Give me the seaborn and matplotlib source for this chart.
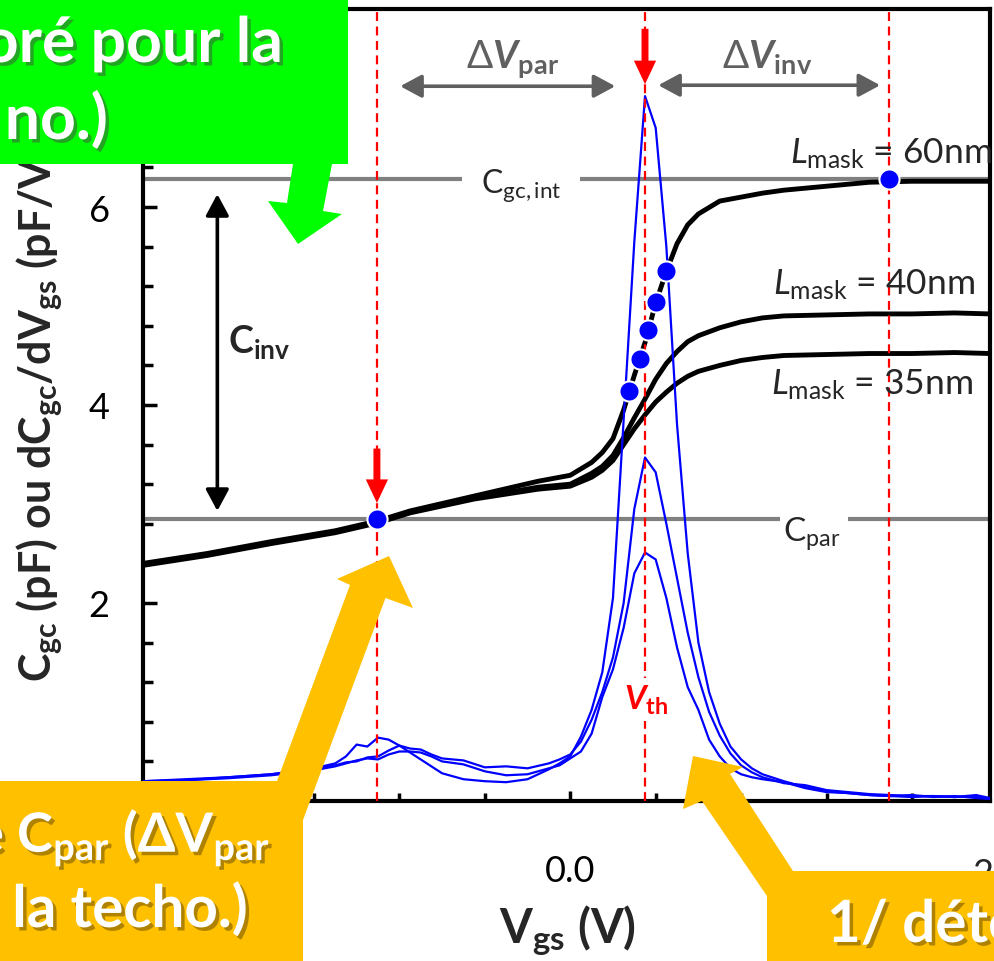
import matplotlib
matplotlib.use("Agg")
import matplotlib.pyplot as plt
import matplotlib.patheffects as pe
from matplotlib.patches import Polygon
from matplotlib.ticker import MultipleLocator, FixedLocator, FixedFormatter
import numpy as np
import pandas as pd
import seaborn as sns

# ------------------------------------------------------------------ data
vgs_cv = [-2.0, -1.7, -1.4, -1.1, -0.9, -0.75, -0.45, -0.15, 0.0, 0.1, 0.15, 0.2, 0.25, 0.3,
          0.35, 0.4, 0.45, 0.5, 0.55, 0.6, 0.7, 0.8, 0.9, 1.0, 1.2, 1.4, 1.6, 1.8, 1.965]
cgc_60nm = [2.40, 2.50, 2.62, 2.73, 2.83, 2.93, 3.08, 3.23, 3.29, 3.42, 3.52, 3.66, 3.95, 4.30,
            4.63, 5.03, 5.35, 5.63, 5.82, 5.93, 6.06, 6.10, 6.14, 6.17, 6.21, 6.25, 6.26, 6.26,
            6.26]
cgc_40nm = [2.39, 2.49, 2.61, 2.72, 2.82, 2.92, 3.06, 3.17, 3.20, 3.31, 3.38, 3.49, 3.67, 3.87,
            4.06, 4.26, 4.42, 4.54, 4.64, 4.70, 4.78, 4.84, 4.88, 4.90, 4.91, 4.92, 4.92, 4.93,
            4.92]
cgc_35nm = [2.38, 2.48, 2.60, 2.71, 2.81, 2.91, 3.05, 3.15, 3.18, 3.27, 3.34, 3.44, 3.60, 3.76,
            3.90, 4.03, 4.13, 4.22, 4.29, 4.34, 4.40, 4.45, 4.48, 4.50, 4.51, 4.52, 4.52, 4.53,
            4.52]

vgs_deriv = [-2.0, -1.8, -1.6, -1.4, -1.2, -1.1, -1.05, -1.0, -0.95, -0.9, -0.85, -0.8, -0.75,
             -0.7, -0.65, -0.6, -0.5, -0.4, -0.3, -0.2, -0.1, -0.05, 0.0, 0.05, 0.1, 0.15, 0.2,
             0.25, 0.3, 0.35, 0.4, 0.45, 0.5, 0.55, 0.6, 0.65, 0.7, 0.75, 0.8, 0.85, 0.9, 1.0,
             1.1, 1.2, 1.3, 1.4, 1.5, 1.6, 1.7, 1.8, 1.9, 1.965]
dcdv_60nm = [0.20, 0.21, 0.24, 0.27, 0.33, 0.38, 0.45, 0.57, 0.55, 0.64, 0.62, 0.56, 0.49,
             0.42, 0.35, 0.28, 0.22, 0.20, 0.19, 0.22, 0.32, 0.38, 0.45, 0.65, 0.92, 1.30, 2.05,
             3.85, 5.65, 7.12, 6.80, 5.60, 3.80, 2.50, 1.60, 1.10, 0.78, 0.55, 0.42, 0.33, 0.27,
             0.20, 0.14, 0.10, 0.08, 0.06, 0.05, 0.06, 0.04, 0.05, 0.03, 0.02]
dcdv_40nm = [0.20, 0.22, 0.24, 0.27, 0.32, 0.36, 0.39, 0.40, 0.44, 0.45, 0.51, 0.56, 0.53,
             0.52, 0.47, 0.43, 0.41, 0.34, 0.35, 0.33, 0.38, 0.42, 0.47, 0.60, 0.82, 1.10, 1.45,
             2.00, 2.95, 3.47, 3.32, 2.80, 2.25, 1.70, 1.25, 0.90, 0.66, 0.48, 0.36, 0.29, 0.24,
             0.18, 0.16, 0.11, 0.09, 0.07, 0.06, 0.05, 0.05, 0.04, 0.05, 0.02]
dcdv_35nm = [0.19, 0.21, 0.23, 0.26, 0.31, 0.35, 0.38, 0.41, 0.43, 0.42, 0.47, 0.50, 0.50,
             0.49, 0.45, 0.40, 0.37, 0.30, 0.26, 0.27, 0.33, 0.36, 0.43, 0.50, 0.68, 1.05, 1.33,
             1.75, 2.30, 2.51, 2.44, 2.05, 1.55, 1.15, 0.92, 0.62, 0.45, 0.33, 0.27, 0.24, 0.22,
             0.19, 0.13, 0.09, 0.08, 0.06, 0.05, 0.04, 0.05, 0.04, 0.06, 0.03]
mask_labels = ["60nm", "40nm", "35nm"]

extract_v = [0.273, 0.328, 0.366, 0.402, 0.449]
extract_c = [4.14, 4.46, 4.76, 5.04, 5.35]
v_par, v_th, v_inv = -0.905, 0.35, 1.49
c_par, c_gc_int = 2.85, 6.28

x_ticks = [-2.0, 0.0, 2.0]
x_ticklabels = ["-2.0", "0.0", "2.0"]
y_ticks = [2, 4, 6]
y_ticklabels = ["2", "4", "6"]

# ------------------------------------------------------------------ style
sns.set_theme(style="ticks")
plt.rcParams["font.family"] = ["Lato", "DejaVu Sans"]
plt.rcParams["mathtext.fontset"] = "custom"
plt.rcParams["mathtext.rm"] = "Lato"
plt.rcParams["mathtext.it"] = "Lato:italic"
plt.rcParams["mathtext.bf"] = "Lato:bold"
plt.rcParams["mathtext.bfit"] = "Lato:bold:italic"

W, H = 994, 962
fig = plt.figure(figsize=(W / 100, H / 100), dpi=100)
L, R, B, T = 143, 990, 802, 10
ax = fig.add_axes([L / W, 1 - B / H, (R - L) / W, (B - T) / H])
XMIN, XMAX = -2.0, 1.965
ax.set_xlim(XMIN, XMAX)
ax.set_ylim(0, 8)

GRAY = "#808080"
# reference levels (gray lines with gaps for their labels)
ax.plot([XMIN, -0.505], [c_gc_int] * 2, color=GRAY, lw=3, zorder=2, solid_capstyle="butt")
ax.plot([0.047, XMAX], [c_gc_int] * 2, color=GRAY, lw=3, zorder=2, solid_capstyle="butt")
ax.plot([XMIN, 0.983], [c_par] * 2, color=GRAY, lw=3, zorder=2, solid_capstyle="butt")
ax.plot([1.30, XMAX], [c_par] * 2, color=GRAY, lw=3, zorder=2, solid_capstyle="butt")

# C-V curves
n = len(vgs_cv)
df_cv = pd.DataFrame({"Vgs": vgs_cv * 3,
                      "C": cgc_60nm + cgc_40nm + cgc_35nm,
                      "mask": np.repeat(mask_labels, n)})
sns.lineplot(data=df_cv, x="Vgs", y="C", units="mask", estimator=None, color="black",
             lw=3.5, sort=False, legend=False, ax=ax, zorder=3)

# derivative curves
m = len(vgs_deriv)
df_d = pd.DataFrame({"Vgs": vgs_deriv * 3,
                     "D": dcdv_60nm + dcdv_40nm + dcdv_35nm,
                     "mask": np.repeat(mask_labels, m)})
sns.lineplot(data=df_d, x="Vgs", y="D", units="mask", estimator=None, color="#0000ff",
             lw=1.6, sort=False, legend=False, ax=ax, zorder=4)

# red dashed vertical lines
for v in (v_par, v_th, v_inv):
    ax.axvline(v, color="red", lw=1.6, ls=(0, (4, 2.5)), zorder=5)

# blue extraction points
sns.scatterplot(x=extract_v + [v_par, v_inv], y=extract_c + [c_par, c_gc_int], s=210,
                color="#0000ff", edgecolor="white", linewidth=1.5, ax=ax, zorder=7, legend=False)

# ticks
ax.xaxis.set_major_locator(FixedLocator(x_ticks))
ax.xaxis.set_major_formatter(FixedFormatter(x_ticklabels))
ax.xaxis.set_minor_locator(MultipleLocator(0.4))
ax.yaxis.set_major_locator(FixedLocator(y_ticks))
ax.yaxis.set_major_formatter(FixedFormatter(y_ticklabels))
ax.yaxis.set_minor_locator(MultipleLocator(0.4))
ax.tick_params(which="both", direction="in", width=2.5, color="black", top=False, right=False,
               labelsize=26, labelcolor="black")
ax.tick_params(axis="y", which="major", length=10, pad=24)
ax.tick_params(axis="y", which="minor", length=7)
ax.tick_params(axis="x", which="major", length=7.5, pad=38)
ax.tick_params(axis="x", which="minor", length=6)
ax.text(2.0, -0.0707, x_ticklabels[-1], transform=ax.get_xaxis_transform(), ha="center",
        va="top", fontsize=26, clip_on=False)
for s in ax.spines.values():
    s.set_linewidth(3)
    s.set_color("black")
    s.set_visible(True)

ax.set_xlabel(r"V$_{\mathbf{gs}}$ (V)", fontsize=34, fontweight="bold")
ax.xaxis.set_label_coords((568 - L) / (R - L), (B - 903) / (B - T))
ax.set_ylabel(r"C$_{\mathbf{gc}}$ (pF) ou dC$_{\mathbf{gc}}$/dV$_{\mathbf{gs}}$ (pF/V)",
              fontsize=31, fontweight="bold")
ax.yaxis.label.set_rotation_mode("default")
ax.yaxis.label.set_va("bottom")
ax.yaxis.label.set_ha("center")
ax.yaxis.set_label_coords((40 - L) / (R - L), (B - 682) / (B - T))

# annotations inside the axes
ax.text(-0.23, 6.15, r"C$_{\mathrm{gc,int}}$", ha="center", va="baseline", fontsize=23, zorder=6)
ax.text(1.133, 2.64, r"C$_{\mathrm{par}}$", ha="center", va="baseline", fontsize=24, zorder=6)
ax.text(1.975, 6.45, r"$\mathit{L}_{\mathrm{mask}}$ = 60nm", ha="right", va="baseline", fontsize=25.5, zorder=6)
ax.text(1.895, 5.13, r"$\mathit{L}_{\mathrm{mask}}$ = 40nm", ha="right", va="baseline", fontsize=25.5, zorder=6)
ax.text(1.886, 4.12, r"$\mathit{L}_{\mathrm{mask}}$ = 35nm", ha="right", va="baseline", fontsize=25.5, zorder=6)
ax.text(-1.60, 4.54, r"$\mathbf{C_{inv}}$", ha="left", va="baseline", fontsize=27, zorder=6)
ax.text(-0.271, 7.41, r"$\Delta\mathbfit{V}_{\mathbf{par}}$", ha="center", va="baseline",
        fontsize=28, color="#606060", zorder=6)
ax.text(0.922, 7.41, r"$\Delta\mathbfit{V}_{\mathbf{inv}}$", ha="center", va="baseline",
        fontsize=28, color="#606060", zorder=6)
ax.text(0.356, 0.93, r"$\mathbfit{V}_{\mathbf{th}}$", ha="center", va="baseline", fontsize=24,
        color="red", zorder=6,
        bbox=dict(boxstyle="square,pad=0.15", fc="white", ec="none"))

# arrows
red_arrow = dict(arrowstyle="simple,head_length=1.7,head_width=1.6,tail_width=0.5",
                 fc="red", ec="none", shrinkA=0, shrinkB=0, mutation_scale=10)
ax.annotate("", xy=(v_par, 3.01), xytext=(v_par, 3.56), arrowprops=red_arrow, zorder=8)
ax.annotate("", xy=(v_th, 7.24), xytext=(v_th, 7.80), arrowprops=red_arrow, zorder=8)
gray_arrow = dict(arrowstyle="<|-|>,head_length=1.3,head_width=0.7", color="#5f5f5f",
                  lw=2.6, shrinkA=0, shrinkB=0, mutation_scale=10)
ax.annotate("", xy=(-0.796, 7.22), xytext=(0.211, 7.22), arrowprops=gray_arrow, zorder=6)
ax.annotate("", xy=(0.412, 7.23), xytext=(1.451, 7.23), arrowprops=gray_arrow, zorder=6)
blk_arrow = dict(arrowstyle="<|-|>,head_length=1.3,head_width=0.7", color="black",
                 lw=2.6, shrinkA=0, shrinkB=0, mutation_scale=10)
ax.annotate("", xy=(-1.652, 6.13), xytext=(-1.652, 2.93), arrowprops=blk_arrow, zorder=6)

# ------------------------------------------------------------------ callout overlays
ov = fig.add_axes([0, 0, 1, 1], zorder=20)
ov.set_xlim(0, W)
ov.set_ylim(H, 0)
ov.axis("off")
ov.patch.set_alpha(0)

GREEN = "#00ff00"
YELLOW = "#ffc000"
ov.add_patch(Polygon([(0, 0), (348, 0), (348, 165), (332, 165), (323, 212), (342, 215),
                      (298, 245), (268, 202), (287, 204), (293, 165), (0, 165)],
                     closed=True, fc=GREEN, ec="none"))
ov.add_patch(Polygon([(0, 782), (277, 782), (350, 586), (337, 580), (389, 557), (413, 609),
                      (385.5, 599), (303, 821), (303, H), (0, H)],
                     closed=True, fc=YELLOW, ec="none"))
ov.add_patch(Polygon([(767, H), (767, 897), (702, 802), (683, 810), (693, 757), (743, 768),
                      (730, 775), (793, 872), (W, 872), (W, H)],
                     closed=True, fc=YELLOW, ec="none"))

shadow_g = [pe.withSimplePatchShadow(offset=(2.5, -2.5), shadow_rgbFace="#3a6a3a", alpha=0.6)]
shadow_y = [pe.withSimplePatchShadow(offset=(2.5, -2.5), shadow_rgbFace="#7a5a00", alpha=0.6)]
ov.text(283, 63, "oré pour la", ha="right", va="baseline", fontsize=45, fontweight="bold",
        color="white", path_effects=shadow_g)
ov.text(108, 140, "no.)", ha="right", va="baseline", fontsize=45, fontweight="bold",
        color="white", path_effects=shadow_g)
ov.text(270, 853, r"e C$_{\mathbf{par}}$ (ΔV$_{\mathbf{par}}$", ha="right", va="baseline",
        fontsize=39, fontweight="bold", color="white", path_effects=shadow_y)
ov.text(248, 928, "la techo.)", ha="right", va="baseline", fontsize=42, fontweight="bold",
        color="white", path_effects=shadow_y)
ov.text(827, 943, "1/ déte", ha="left", va="baseline", fontsize=42, fontweight="bold",
        color="white", path_effects=shadow_y, clip_on=True)

fig.savefig("out.png", dpi=100)
